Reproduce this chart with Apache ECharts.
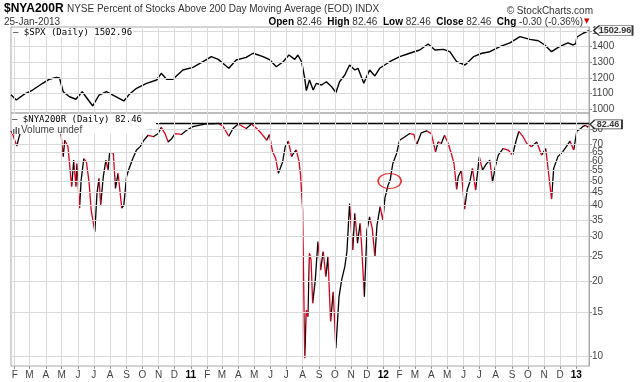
<!DOCTYPE html>
<html><head><meta charset="utf-8">
<script src="https://cdn.jsdelivr.net/npm/echarts@6/dist/echarts.min.js"></script>
<style>html,body{margin:0;padding:0;background:#fff}#c{width:640px;height:382px}</style>
</head><body><div id="c"></div><script>
// ---------- data ----------
const rangeStart = '2010-01-25';
const rangeEnd = '2013-01-25';
const monthLetters = ['J','F','M','A','M','J','J','A','S','O','N','D'];
const spxTicks = [1000, 1100, 1200, 1300, 1400, 1500];
const nyaTicks = [10, 15, 20, 25, 30, 35, 40, 45, 50, 55, 60, 65, 70, 80];

const spxDates = ['2010-01-25','2010-01-28','2010-02-04','2010-02-20','2010-03-07','2010-03-26','2010-04-08','2010-04-21','2010-04-27','2010-05-04','2010-05-16','2010-05-28','2010-06-09','2010-06-29','2010-07-11','2010-07-25','2010-08-09','2010-08-27','2010-09-07','2010-09-20','2010-10-09','2010-10-28','2010-11-06','2010-11-16','2010-11-28','2010-12-17','2011-01-05','2011-01-24','2011-02-09','2011-02-22','2011-03-14','2011-03-28','2011-04-16','2011-04-29','2011-05-18','2011-05-31','2011-06-12','2011-06-25','2011-07-06','2011-07-17','2011-07-23','2011-07-30','2011-08-05','2011-08-08','2011-08-14','2011-08-21','2011-08-27','2011-09-06','2011-09-15','2011-09-25','2011-10-03','2011-10-10','2011-10-20','2011-10-29','2011-11-08','2011-11-14','2011-11-25','2011-12-06','2011-12-16','2011-12-25','2012-01-13','2012-02-01','2012-02-20','2012-03-10','2012-03-26','2012-04-08','2012-04-24','2012-05-06','2012-05-19','2012-06-04','2012-06-20','2012-07-06','2012-07-21','2012-08-09','2012-08-28','2012-09-16','2012-10-05','2012-10-21','2012-11-02','2012-11-15','2012-11-30','2012-12-16','2012-12-26','2012-12-31','2013-01-02','2013-01-14','2013-01-25'];
const spxValues = [1092,1085,1059,1098,1123,1166,1192,1204,1200,1112,1080,1064,1112,1021,1091,1112,1085,1053,1098,1134,1166,1187,1230,1192,1192,1251,1268,1304,1336,1319,1262,1315,1332,1358,1336,1315,1272,1304,1347,1319,1347,1304,1198,1119,1187,1123,1166,1155,1176,1144,1106,1176,1219,1283,1251,1262,1166,1251,1213,1262,1304,1336,1358,1379,1417,1379,1383,1368,1304,1283,1336,1358,1368,1400,1425,1464,1447,1438,1411,1368,1400,1425,1411,1420,1462,1486,1502.96];

const nyaDates = ['2010-01-25','2010-01-29','2010-02-01','2010-02-05','2010-02-08','2010-02-11','2010-02-22','2010-03-05','2010-03-18','2010-04-01','2010-04-14','2010-04-23','2010-04-30','2010-05-04','2010-05-07','2010-05-13','2010-05-20','2010-05-24','2010-05-28','2010-05-30','2010-06-04','2010-06-07','2010-06-12','2010-06-17','2010-06-22','2010-06-26','2010-07-03','2010-07-07','2010-07-11','2010-07-14','2010-07-19','2010-07-24','2010-07-28','2010-07-31','2010-08-07','2010-08-11','2010-08-16','2010-08-23','2010-08-27','2010-09-01','2010-09-06','2010-09-13','2010-09-20','2010-09-27','2010-10-04','2010-10-12','2010-10-22','2010-10-31','2010-11-06','2010-11-13','2010-11-19','2010-11-26','2010-12-02','2010-12-14','2010-12-24','2011-01-05','2011-01-18','2011-01-31','2011-02-12','2011-02-22','2011-03-03','2011-03-14','2011-03-22','2011-04-01','2011-04-16','2011-04-26','2011-05-06','2011-05-15','2011-05-25','2011-05-30','2011-06-05','2011-06-11','2011-06-16','2011-06-24','2011-06-29','2011-07-05','2011-07-08','2011-07-11','2011-07-14','2011-07-17','2011-07-20','2011-07-25','2011-07-28','2011-08-01','2011-08-05','2011-08-08','2011-08-11','2011-08-14','2011-08-17','2011-08-20','2011-08-25','2011-08-30','2011-09-04','2011-09-09','2011-09-14','2011-09-18','2011-09-23','2011-09-28','2011-10-03','2011-10-09','2011-10-14','2011-10-20','2011-10-24','2011-10-29','2011-11-04','2011-11-08','2011-11-13','2011-11-18','2011-11-21','2011-11-26','2011-12-01','2011-12-06','2011-12-11','2011-12-16','2011-12-20','2011-12-26','2011-12-31','2012-01-04','2012-01-10','2012-01-14','2012-01-19','2012-01-26','2012-02-01','2012-02-11','2012-02-20','2012-02-28','2012-03-04','2012-03-13','2012-03-23','2012-04-01','2012-04-09','2012-04-14','2012-04-20','2012-04-26','2012-05-03','2012-05-09','2012-05-14','2012-05-19','2012-05-22','2012-05-28','2012-06-03','2012-06-08','2012-06-13','2012-06-18','2012-06-24','2012-07-01','2012-07-07','2012-07-15','2012-07-21','2012-07-26','2012-08-01','2012-08-06','2012-08-15','2012-08-25','2012-09-02','2012-09-09','2012-09-14','2012-09-22','2012-09-29','2012-10-08','2012-10-18','2012-10-27','2012-11-04','2012-11-09','2012-11-15','2012-11-19','2012-11-27','2012-12-06','2012-12-13','2012-12-20','2012-12-27','2013-01-02','2013-01-08','2013-01-14','2013-01-18','2013-01-22','2013-01-24','2013-01-25'];
const nyaValues = [79,76,72.6,68.9,73,77,82,86,89,90,91,89,76,62.5,72.6,68.5,47.4,60.5,47.4,58.7,39,50.4,61.4,59.5,49.5,38.3,31.4,44.6,51.2,40.1,52,60.5,55.2,64.8,64.8,46.7,53.6,39,40.1,52,56.1,61.4,66.4,68.5,72.6,76,75,77.2,81.7,77.2,71.5,73.8,77.2,76.6,79.6,82.3,83.4,84.3,84.3,84.8,82.5,75.3,80.9,84.3,80.9,84.3,80.9,77.2,72.6,76.6,65.3,61.4,53.6,59.5,68.5,72,71.5,62.5,64.2,65.3,66.4,60,53,38.3,9.85,15.3,14.4,25.8,24.2,16.3,20.2,28.7,22.1,26.2,20.8,25,13.8,18.1,10.8,17.3,20.2,22.8,26.2,40.7,26.6,37.2,28.3,33.9,27.4,17.3,31.9,36,32.4,25,33.4,39.5,34.9,42.7,48.1,50.4,58.7,64.2,72.6,75,77.2,76.6,69.5,77.7,79.1,77.2,65.3,71.5,70.5,76,70.5,64.2,58.7,46.3,52,55.2,38.6,46,49.5,56.1,46,62.5,55.2,58.7,60.5,49.5,57.8,63.4,67.3,66.4,63.4,72.6,78.7,75,70.5,68.5,71.5,63.4,67.3,54.4,42.3,56.1,62.5,65.3,68.5,72,66.4,79.1,80.4,82.5,83.2,82.0,82.76,82.46];

const resistanceDates = ['2010-10-27', '2013-01-25'];
const resistanceLevel = 84.7;
const circleDate = '2012-01-13';
const circleValue = 50;

// ---------- helpers ----------
function ts(s){ const p = s.split('-').map(Number); return Date.UTC(p[0], p[1]-1, p[2]); }
const tMin = ts(rangeStart), tMax = ts(rangeEnd);
const monthTicks = [];
for (let y = 2010; y <= 2013; y++) for (let m = 0; m < 12; m++) {
  const t = Date.UTC(y, m, 1);
  if (t > tMin && t <= tMax) monthTicks.push(t);
}
const spxData = spxDates.map((d,i)=>[ts(d), spxValues[i]]);
const nyaData = nyaDates.map((d,i)=>[ts(d), nyaValues[i]]);
const RED = '#d8001c';

const pieces = [];
let runStart = null;
for (let i = 0; i < nyaData.length - 1; i++) {
  const falling = nyaData[i+1][1] < nyaData[i][1];
  if (falling && runStart === null) runStart = nyaData[i][0];
  if (!falling && runStart !== null) { pieces.push({gte: runStart, lte: nyaData[i][0], color: RED}); runStart = null; }
}
if (runStart !== null) pieces.push({gte: runStart, lte: nyaData[nyaData.length-1][0], color: RED});

const lastSpx = spxData[spxData.length-1];
const lastNya = nyaData[nyaData.length-1];
const GRID = '#dadada';
const FONT = 'Liberation Sans, Arial, sans-serif';
const MONO = 'DejaVu Sans Mono, monospace';

function xAxisBase(idx, showLabels){
  return {
    type: 'value', gridIndex: idx, min: tMin, max: tMax, scale: true,
    axisLine: {show: false},
    axisTick: {show: showLabels, customValues: monthTicks, length: 3, lineStyle: {color: '#999'}},
    splitLine: {show: false},
    axisLabel: {
      show: showLabels, customValues: monthTicks, margin: 4,
      fontFamily: FONT, fontSize: 10, color: '#444',
      formatter: function(v){
        const d = new Date(v); const m = d.getUTCMonth();
        if (m === 0) return '{y|' + String(d.getUTCFullYear()).slice(2) + '}';
        return monthLetters[m];
      },
      rich: {y: {fontWeight: 'bold', color: '#000', fontSize: 10, fontFamily: FONT}}
    },
    axisPointer: {show: false}
  };
}

function gridSeries(xi, yi, yTicks){
  return {
    type: 'line', xAxisIndex: xi, yAxisIndex: yi, data: [], silent: true, z: 1,
    markLine: {
      silent: true, symbol: ['none', 'none'], animation: false,
      label: {show: false},
      lineStyle: {color: GRID, type: 'solid', width: 1},
      emphasis: {disabled: true},
      data: monthTicks.map(t => ({xAxis: t})).concat(yTicks.map(v => ({yAxis: v})))
    }
  };
}

const boxPath = 'path://M0,5L6,0L40,0L40,10L6,10Z';
const plain = v => String(v);

const option = {
  animation: false,
  backgroundColor: '#fff',
  grid: [
    {left: 11, right: 51, top: 27, height: 86, show: true, borderColor: '#a8a8a8', borderWidth: 1},
    {left: 11, right: 51, top: 113, height: 253, show: true, borderColor: '#a8a8a8', borderWidth: 1}
  ],
  xAxis: [xAxisBase(0, false), xAxisBase(1, true)],
  yAxis: [
    {type: 'value', gridIndex: 0, position: 'right', min: 976, max: 1526, scale: true,
     axisLine: {show: true, lineStyle: {color: '#a8a8a8'}},
     axisTick: {show: true, customValues: spxTicks, length: 3, lineStyle: {color: '#999'}},
     axisLabel: {customValues: spxTicks, margin: 3, fontFamily: FONT, fontSize: 10, color: '#444', formatter: plain},
     splitLine: {show: false}},
    {type: 'log', logBase: 10, gridIndex: 1, position: 'right', min: 9.18, max: 93.2,
     axisLine: {show: true, lineStyle: {color: '#a8a8a8'}},
     axisTick: {show: true, customValues: nyaTicks, length: 3, lineStyle: {color: '#999'}},
     axisLabel: {customValues: nyaTicks, margin: 3, fontFamily: FONT, fontSize: 10, color: '#444', formatter: plain},
     splitLine: {show: false}}
  ],
  visualMap: [{
    type: 'piecewise', show: false, seriesIndex: 1, dimension: 0,
    pieces: pieces, outOfRange: {color: '#000'}
  }],
  series: [
    {type: 'line', xAxisIndex: 0, yAxisIndex: 0, data: spxData, showSymbol: false, symbol: 'none',
     lineStyle: {color: '#000', width: 1.4}, z: 3},
    {type: 'line', xAxisIndex: 1, yAxisIndex: 1, data: nyaData, showSymbol: false, symbol: 'none',
     lineStyle: {width: 1.3}, z: 3},
    {type: 'line', xAxisIndex: 1, yAxisIndex: 1, data: resistanceDates.map(d=>[ts(d), resistanceLevel]),
     showSymbol: false, symbol: 'none', lineStyle: {color: '#000', width: 1.5}, z: 4},
    {type: 'scatter', xAxisIndex: 1, yAxisIndex: 1, data: [[ts(circleDate), circleValue]],
     symbol: 'circle', symbolSize: [23, 15], clip: false,
     itemStyle: {color: 'rgba(0,0,0,0)', borderColor: '#e00000', borderWidth: 1.3}, z: 5},
    {type: 'scatter', xAxisIndex: 0, yAxisIndex: 0, data: [lastSpx], clip: false,
     symbol: boxPath, symbolSize: [39, 10], symbolOffset: [24, 0], symbolKeepAspect: false,
     itemStyle: {color: '#fff', borderColor: '#000', borderWidth: 1},
     label: {show: true, position: 'inside', offset: [2, 0], formatter: String(lastSpx[1]),
             fontFamily: FONT, fontWeight: 'bold', fontSize: 9, color: '#000'}, z: 6},
    {type: 'scatter', xAxisIndex: 1, yAxisIndex: 1, data: [lastNya], clip: false,
     symbol: boxPath, symbolSize: [32, 9], symbolOffset: [17, -2], symbolKeepAspect: false,
     itemStyle: {color: '#fff', borderColor: '#000', borderWidth: 1},
     label: {show: true, position: 'inside', offset: [2, 0], formatter: String(lastNya[1]),
             fontFamily: FONT, fontWeight: 'bold', fontSize: 9, color: '#000'}, z: 6},
    gridSeries(0, 0, spxTicks),
    gridSeries(1, 1, nyaTicks)
  ],
  graphic: [
    {type: 'text', left: 4, top: 3, z: 100, style: {
      text: '{b|$NYA200R} {n|NYSE Percent of Stocks Above 200 Day Moving Average (EOD) INDX}',
      rich: {b: {fontFamily: FONT, fontWeight: 'bold', fontSize: 12, fill: '#000'},
             n: {fontFamily: FONT, fontSize: 10, fill: '#333'}}}},
    {type: 'text', right: 47, top: 6, z: 100, style: {text: '\u00a9 StockCharts.com', fontFamily: FONT, fontSize: 10, fill: '#333'}},
    {type: 'text', left: 4, top: 17, z: 100, style: {text: '25-Jan-2013', fontFamily: FONT, fontSize: 10, fill: '#333'}},
    {type: 'text', right: 57, top: 17, z: 100, style: {
      text: '{b|Open} 82.46  {b|High} 82.46  {b|Low} 82.46  {b|Close} 82.46  {b|Chg} -0.30 (-0.36%)',
      fontFamily: FONT, fontSize: 10, fill: '#333',
      rich: {b: {fontFamily: FONT, fontWeight: 'bold', fontSize: 10, fill: '#000'}}}},
    {type: 'text', left: 584, top: 18, z: 100, style: {text: '\u25BC', fontFamily: 'DejaVu Sans', fontSize: 7, fill: '#d00000'}},
    {type: 'text', left: 12, top: 28, z: 100, style: {text: '\u2014 $SPX (Daily) 1502.96', fontFamily: MONO, fontSize: 9, fill: '#000', backgroundColor: '#fff', padding: [0, 1, 0, 1]}},
    {type: 'rect', left: 12, top: 114, z: 99, shape: {width: 134, height: 20}, style: {fill: '#fff'}},
    {type: 'rect', left: 12, top: 114, z: 99, shape: {width: 148, height: 9}, style: {fill: '#fff'}},
    {type: 'text', left: 12, top: 115, z: 100, style: {text: '\u2014 $NYA200R (Daily) 82.46', fontFamily: MONO, fontSize: 9, fill: '#000'}},
    {type: 'rect', left: 13, top: 129, z: 100, shape: {width: 1.5, height: 5}, style: {fill: '#666'}},
    {type: 'rect', left: 15.5, top: 127, z: 100, shape: {width: 1.5, height: 7}, style: {fill: '#666'}},
    {type: 'rect', left: 18, top: 128, z: 100, shape: {width: 1.5, height: 6}, style: {fill: '#666'}},
    {type: 'text', left: 21, top: 125, z: 100, style: {text: 'Volume undef', fontFamily: FONT, fontSize: 10, fill: '#444'}}
  ]
};
const chart = echarts.init(document.getElementById('c'), null, {renderer: 'canvas'});
chart.setOption(option);
</script></body></html>
